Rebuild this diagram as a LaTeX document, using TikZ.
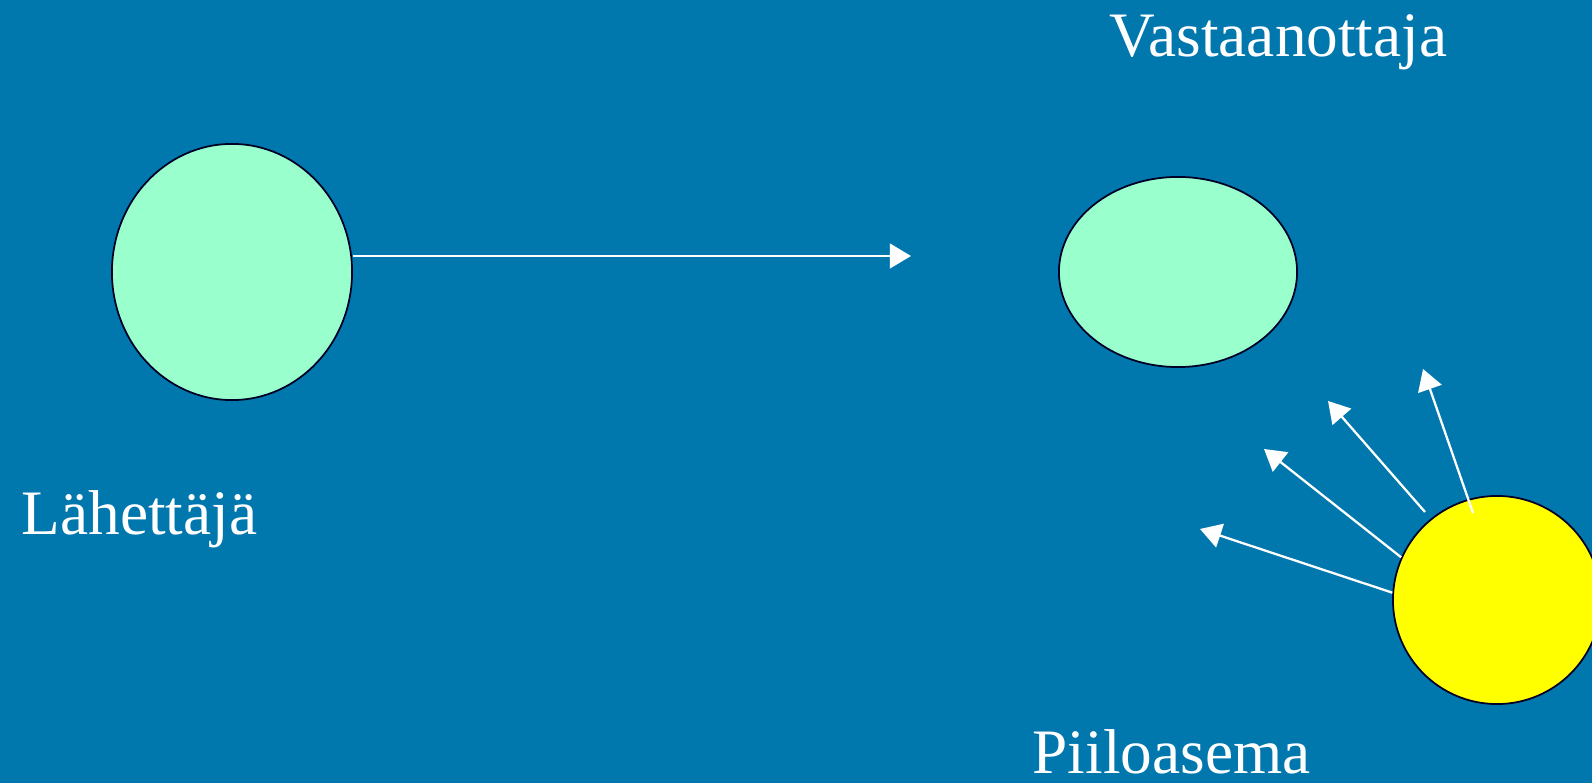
\documentclass[tikz,border=0pt]{standalone}
\usepackage{fontspec}
\setmainfont{Liberation Serif}
\usepackage{tikz}
\usetikzlibrary{arrows.meta,positioning,shapes.geometric}

\definecolor{slideblue}{RGB}{0,119,173}
\definecolor{mint}{RGB}{153,255,204}
\definecolor{hiddenyellow}{RGB}{255,255,0}

\begin{document}
\begin{tikzpicture}[x=0.01cm, y=-0.01cm,
		station/.style={ellipse, draw=black!85!blue, line width=0.5pt, inner sep=0pt},
		caption/.style={anchor=base west, inner sep=0pt, text=white,
		font=\fontsize{18}{20}\selectfont},
		signal/.style={color=white, line width=0.65pt,
		-{Triangle[length=6pt, width=7pt]}}]
		\fill[slideblue] (0,0) rectangle (1592,783);
		\useasboundingbox (0,0) rectangle (1592,783);
		% stations
		\node[station, fill=mint, minimum width=2.4cm, minimum height=2.56cm]
		    (sender) at (232,272) {};
		\node[station, fill=mint, minimum width=2.38cm, minimum height=1.9cm]
		    (receiver) at (1178,272) {};
		\node[station, circle, fill=hiddenyellow, minimum size=2.08cm]
		    (hidden) at (1497,600) {};
		% labels
		\node[caption] (senderlbl) at (21,535) {Lähettäjä};
		\node[caption] (receiverlbl) at (1109,57) {Vastaanottaja};
		\node[caption] (hiddenlbl) at (1032,773) {Piiloasema};
		% signal ends
		\coordinate (msg) at (911,256);
		\coordinate (r1) at (1200,529);
		\coordinate (r2) at (1264,449);
		\coordinate (r3) at (1328,401);
		\coordinate (r4) at (1423,369);
		\coordinate (s3) at (1425,512);
		\coordinate (s4) at (1473,513);
		\path[signal]
		(sender.east |- msg) edge (msg)
		(hidden.176) edge (r1)
		(hidden.156) edge (r2)
		(s3) edge (r3)
		(s4) edge (r4);
\end{tikzpicture}
\end{document}
